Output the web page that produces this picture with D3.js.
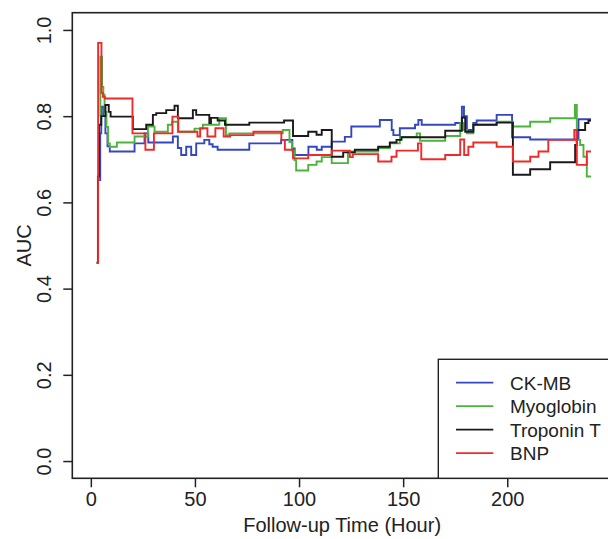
<!DOCTYPE html>
<html><head><meta charset="utf-8">
<script src="https://cdn.jsdelivr.net/npm/d3@7"></script>
<style>
body{margin:0;background:#fff}
svg{display:block}
text{font-family:"Liberation Sans",Arial,sans-serif;fill:#222}
</style>
</head><body>
<svg id="chart" width="608" height="539"></svg>
<script>
// ---- data ----
const seriesNames = ["CK-MB", "Myoglobin", "Troponin T", "BNP"];
const seriesColors = ["#3447c0", "#4cb43c", "#1a1a1a", "#ee2b2b"];
const xTicks = [0, 50, 100, 150, 200];
const yTicks = [0, 0.2, 0.4, 0.6, 0.8, 1.0];

const ckmbHours = [4.0, 4.5, 5.0, 6.0, 7.0, 8.0, 9.1, 21.0, 25.8, 27.6, 39.4, 41.8, 43.4, 45.8, 48.2, 50.6, 54.5, 56.9, 58.5, 60.9, 76.1, 91.4, 96.8, 97.9, 104.5, 108.5, 110.9, 115.7, 122.0, 125.1, 138.8, 144.5, 145.3, 148.4, 155.7, 157.3, 158.9, 175.0, 178.2, 179.2, 180.6, 183.7, 185.3, 194.9, 202.3, 211.0, 234.2, 240.2];
const ckmbAUC   = [0.652, 0.76, 0.822, 0.80, 0.76, 0.73, 0.718, 0.737, 0.760, 0.739, 0.753, 0.726, 0.710, 0.729, 0.710, 0.737, 0.745, 0.735, 0.729, 0.722, 0.737, 0.745, 0.725, 0.710, 0.729, 0.722, 0.729, 0.741, 0.752, 0.776, 0.791, 0.768, 0.756, 0.772, 0.780, 0.791, 0.780, 0.784, 0.822, 0.80, 0.768, 0.784, 0.790, 0.803, 0.751, 0.746, 0.793, 0.793];

const myoHours = [4.3, 4.6, 5.4, 6.0, 6.6, 7.5, 8.3, 9.1, 12.5, 21.0, 27.4, 30.6, 37.0, 39.0, 41.8, 49.8, 53.8, 61.7, 64.9, 66.5, 92.2, 95.4, 96.6, 97.8, 98.6, 104.4, 108.4, 110.9, 115.7, 123.5, 138.0, 143.6, 148.4, 156.5, 158.1, 170.2, 177.4, 179.0, 180.6, 183.7, 194.9, 202.7, 211.0, 220.6, 232.5, 233.4, 235.0, 236.6, 238.2, 240.2];
const myoAUC   = [0.80, 0.938, 0.868, 0.85, 0.81, 0.775, 0.737, 0.729, 0.739, 0.753, 0.776, 0.764, 0.78, 0.787, 0.764, 0.771, 0.780, 0.795, 0.756, 0.760, 0.768, 0.74, 0.72, 0.698, 0.674, 0.687, 0.695, 0.705, 0.691, 0.718, 0.726, 0.737, 0.752, 0.760, 0.743, 0.754, 0.784, 0.768, 0.760, 0.780, 0.787, 0.776, 0.787, 0.795, 0.826, 0.745, 0.733, 0.706, 0.660, 0.660];

const tropHours = [2.7, 3.4, 3.9, 5.0, 7.0, 8.6, 9.5, 20.2, 26.6, 29.8, 31.4, 36.2, 40.2, 41.8, 49.0, 50.6, 56.9, 57.7, 60.9, 64.4, 76.1, 92.8, 97.1, 104.4, 108.4, 110.9, 115.7, 121.2, 126.8, 138.0, 143.6, 146.8, 149.2, 170.2, 178.2, 179.8, 183.7, 194.9, 202.7, 211.0, 220.6, 232.6, 233.4, 237.4, 239.0, 240.2];
const tropAUC   = [0.46, 0.66, 0.78, 0.80, 0.826, 0.81, 0.799, 0.770, 0.780, 0.803, 0.807, 0.814, 0.824, 0.795, 0.814, 0.803, 0.784, 0.796, 0.790, 0.780, 0.785, 0.790, 0.754, 0.764, 0.757, 0.768, 0.706, 0.716, 0.722, 0.729, 0.739, 0.745, 0.751, 0.766, 0.797, 0.764, 0.780, 0.785, 0.664, 0.677, 0.693, 0.733, 0.768, 0.784, 0.790, 0.790];

const bnpHours = [3.0, 3.5, 5.1, 5.8, 6.7, 20.0, 26.2, 30.3, 39.2, 42.0, 51.2, 52.5, 56.0, 59.8, 63.8, 66.9, 78.1, 91.5, 93.2, 97.1, 104.4, 115.7, 124.4, 125.8, 138.0, 144.4, 146.8, 157.1, 158.7, 170.2, 177.4, 179.3, 181.3, 183.7, 194.9, 202.7, 211.0, 215.0, 219.7, 232.2, 233.4, 238.2, 240.2];
const bnpAUC   = [0.46, 0.97, 0.854, 0.845, 0.841, 0.760, 0.722, 0.760, 0.799, 0.764, 0.753, 0.772, 0.753, 0.772, 0.753, 0.756, 0.764, 0.745, 0.722, 0.702, 0.710, 0.720, 0.705, 0.712, 0.695, 0.706, 0.720, 0.737, 0.700, 0.710, 0.746, 0.710, 0.729, 0.739, 0.729, 0.695, 0.706, 0.718, 0.745, 0.768, 0.687, 0.718, 0.718];

// ---- layout ----
const svg = d3.select("#chart");
const box = {left: 72.3, top: 12.7, right: 612, bottom: 478.3};
const x = d3.scaleLinear().domain([-8.9, 250.3]).range([box.left, box.right]);
const y = d3.scaleLinear().domain([-0.04, 1.04]).range([box.bottom, box.top]);
const FONT = 20;
const LEGEND_FONT = 19;

const series = [
  {hours: ckmbHours, auc: ckmbAUC},
  {hours: myoHours, auc: myoAUC},
  {hours: tropHours, auc: tropAUC},
  {hours: bnpHours, auc: bnpAUC}
];

const line = d3.line().x(d => x(d[0])).y(d => y(d[1])).curve(d3.curveStepAfter);
const gLines = svg.append("g");
series.forEach((s, i) => {
  const pts = s.hours.map((h, j) => [h, s.auc[j]]);
  gLines.append("path").datum(pts)
    .attr("d", line)
    .attr("fill", "none")
    .attr("stroke", seriesColors[i])
    .attr("stroke-width", 1.9)
    .attr("stroke-linejoin", "miter");
});

// axes
const yAxis = d3.axisLeft(y).tickValues(yTicks).tickSize(9).tickSizeOuter(0).tickFormat(d3.format(".1f"));
const gy = svg.append("g").attr("transform", `translate(${box.left},0)`).call(yAxis);
gy.select(".domain").remove();
gy.selectAll(".tick line").attr("stroke", "#222").attr("stroke-width", 1.5);
gy.selectAll(".tick text")
  .attr("x", null).attr("dy", null)
  .attr("transform", "translate(-21,0) rotate(-90)")
  .attr("text-anchor", "middle")
  .style("font-size", FONT + "px").style("fill", "#222");

const xAxis = d3.axisBottom(x).tickValues(xTicks).tickSize(9).tickSizeOuter(0).tickFormat(d3.format("d"));
const gx = svg.append("g").attr("transform", `translate(0,${box.bottom})`).call(xAxis);
gx.select(".domain").remove();
gx.selectAll(".tick line").attr("stroke", "#222").attr("stroke-width", 1.5);
gx.selectAll(".tick text").attr("y", 27.5).attr("dy", null)
  .style("font-size", FONT + "px").style("fill", "#222");

// plot box
svg.append("rect")
  .attr("x", box.left).attr("y", box.top)
  .attr("width", box.right - box.left).attr("height", box.bottom - box.top)
  .attr("fill", "none").attr("stroke", "#222").attr("stroke-width", 1.6);

// titles
svg.append("text").attr("x", (box.left + box.right) / 2).attr("y", 532)
  .attr("text-anchor", "middle").style("font-size", FONT + "px").text("Follow-up Time (Hour)");
svg.append("text").attr("transform", `translate(31,${(box.top + box.bottom) / 2}) rotate(-90)`)
  .attr("text-anchor", "middle").style("font-size", FONT + "px").text("AUC");

// legend
const leg = svg.append("g");
leg.append("rect").attr("x", 438.3).attr("y", 359.3).attr("width", 200).attr("height", box.bottom - 359.3)
  .attr("fill", "#fff").attr("stroke", "#222").attr("stroke-width", 1.4);
const rowY = [382.7, 406.2, 429.7, 453.2];
seriesNames.forEach((name, i) => {
  leg.append("line").attr("x1", 456).attr("x2", 493.3).attr("y1", rowY[i]).attr("y2", rowY[i])
    .attr("stroke", seriesColors[i]).attr("stroke-width", 1.7);
  leg.append("text").attr("x", 510).attr("y", rowY[i] + 7).style("font-size", LEGEND_FONT + "px").text(name);
});
</script>
</body></html>
